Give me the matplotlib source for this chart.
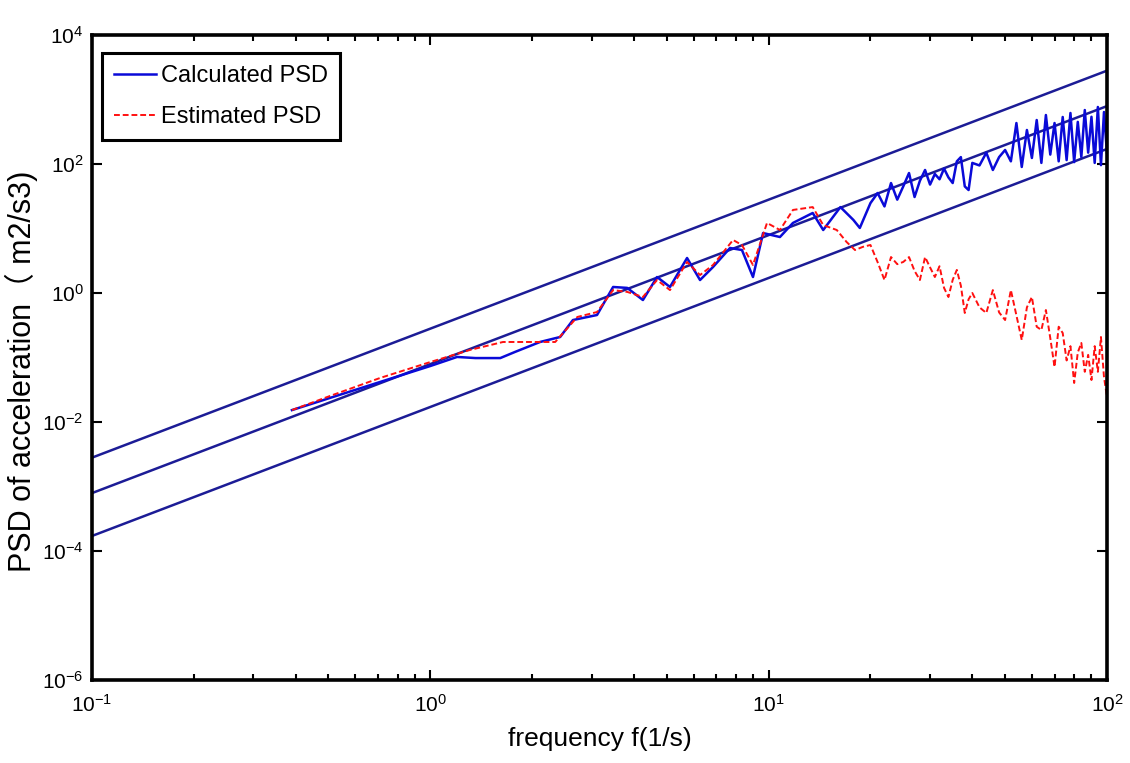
import math
import matplotlib
matplotlib.use("Agg")
import matplotlib.pyplot as plt
from matplotlib.ticker import LogLocator, FuncFormatter, NullLocator

plt.rcParams['font.family'] = ['Liberation Sans', 'Noto Sans CJK SC', 'DejaVu Sans']
plt.rcParams['mathtext.fontset'] = 'custom'
plt.rcParams['mathtext.rm'] = 'Liberation Sans'
plt.rcParams['mathtext.it'] = 'Liberation Sans'
plt.rcParams['mathtext.default'] = 'regular'
plt.rcParams['axes.unicode_minus'] = False

# calculated PSD
calc_f = [0.390, 0.505, 0.710, 1.00, 1.20, 1.36, 1.61, 1.78, 2.11, 2.42, 2.64, 3.11,
          3.47, 3.82, 4.25, 4.68, 5.11, 5.74, 6.27, 6.85, 7.69, 8.34, 8.99, 9.63,
          10.8, 11.8, 13.5, 14.5, 16.3, 17.8, 18.6,
          20, 21, 22, 23, 24, 25, 26, 27, 28, 29, 30, 31, 32, 33, 34, 35, 36, 37, 38, 39, 40,
          42, 44, 46, 48, 50, 52, 54, 56, 58, 60, 62, 64, 66, 68, 70, 72, 74, 76, 78, 80,
          82, 84, 86, 88, 90, 92, 94, 96, 98, 100]
calc_psd = [0.0153, 0.0236, 0.0417, 0.0738, 0.102, 0.098, 0.098, 0.122, 0.174, 0.208, 0.381, 0.456,
            1.24, 1.20, 0.778, 1.77, 1.24, 3.49, 1.59, 2.53, 4.99, 4.64, 1.77, 8.51,
            7.38, 12.2, 17.4, 9.48, 21.5, 13.6, 10.2,
            24.8, 35.5, 22.0, 50.7, 28.0, 45.0, 72.5, 30.8, 55.0, 80.8, 48.0, 70.0, 58.0, 85.0,
            62.0, 50.7, 110, 128, 45.0, 39.5, 104,
            95, 150, 80.8, 128, 165, 110, 432, 90, 337, 124, 481, 104, 575, 140, 432, 110,
            536, 115, 618, 107, 450, 128, 687, 150, 540, 104, 766, 96, 640, 150]

# estimated PSD
est_f = [0.390, 0.505, 0.710, 1.00, 1.31, 1.64, 1.97, 2.34, 2.72, 3.11, 3.47, 3.82,
         4.25, 4.68, 5.11, 5.74, 6.27, 6.85, 7.85, 8.34, 8.99, 9.89, 10.8, 11.8,
         13.5, 14.5, 15.9,
         17, 18, 19, 20, 21, 22, 23, 24, 25, 26, 27, 28, 29, 30, 31, 32, 33, 34, 35, 36,
         37, 38, 39, 40, 42, 44, 46, 48, 50, 52, 54, 56, 58, 60, 62, 64, 66, 68, 70, 72,
         74, 76, 78, 80, 82, 84, 86, 88, 90, 92, 94, 96, 98, 100]
est_psd = [0.0153, 0.0253, 0.0481, 0.0851, 0.131, 0.174, 0.174, 0.174, 0.425, 0.507, 1.11, 1.04,
           0.867, 1.59, 1.11, 3.03, 1.90, 2.72, 6.64, 5.55, 2.72, 12.2, 9.48, 19.4,
           21.5, 11.3, 9.48,
           6.18, 4.64, 5.2, 5.55, 3.0, 1.59, 3.61, 2.8, 3.03, 3.61, 2.2, 1.59, 3.61, 2.5,
           1.77, 2.6, 1.2, 0.867, 1.6, 2.28, 1.3, 0.49, 0.8, 1.00, 0.6, 0.49, 1.11, 0.5,
           0.381, 1.11, 0.45, 0.187, 0.6, 0.867, 0.3, 0.267, 0.545, 0.2, 0.0713, 0.3,
           0.240, 0.09, 0.15, 0.0403, 0.12, 0.168, 0.06, 0.11, 0.0448, 0.15, 0.06, 0.208,
           0.05, 0.0244]

# straight reference lines (end points)
bound_f = [0.1, 100.0]
upper = [2.8e-3, 2.8e3]
middle = [7.9e-4, 7.9e2]
lower = [1.71e-4, 1.71e2]

fig = plt.figure(figsize=(11.3, 7.63), dpi=100)
ax = fig.add_axes([0.0814, 0.1088, 0.8982, 0.8453])

line_col = '#1c1c96'
ax.plot(bound_f, upper, color=line_col, lw=1.8)
ax.plot(bound_f, middle, color=line_col, lw=1.8)
ax.plot(bound_f, lower, color=line_col, lw=1.8)

ax.plot(calc_f, calc_psd, color='#0a0ad8', lw=1.8, label='Calculated PSD')
ax.plot(est_f, est_psd, color='#ff1010', lw=1.4, linestyle=(0, (3, 1.5)), label='Estimated PSD')

ax.set_xscale('log')
ax.set_yscale('log')
ax.set_xlim(0.1, 100)
ax.set_ylim(1e-6, 1e4)

ax.yaxis.set_major_locator(LogLocator(base=100, numticks=10))
ax.yaxis.set_minor_locator(NullLocator())
fmt = FuncFormatter(lambda v, p: r'$10^{%d}$' % round(math.log10(v)))
ax.xaxis.set_major_formatter(fmt)
ax.yaxis.set_major_formatter(fmt)

ax.tick_params(which='both', direction='in', top=True, right=True, width=1.5)
ax.tick_params(which='major', length=7, labelsize=15)
ax.tick_params(axis='x', which='major', pad=10)
ax.tick_params(axis='y', which='major', pad=6)
ax.tick_params(which='minor', length=4.5)
for s in ax.spines.values():
    s.set_linewidth(2.6)

ax.set_xlabel('frequency f(1/s)', fontsize=19, labelpad=8)
ax.set_ylabel('PSD of acceleration（ m2/s3)', fontsize=22)
ax.yaxis.set_label_coords(-0.053, 0.478)

leg = ax.legend(loc='upper left', bbox_to_anchor=(0.0099, 0.972), borderaxespad=0,
                fontsize=17, handlelength=1.8, handletextpad=0.2, labelspacing=0.8,
                borderpad=0.5, fancybox=False, framealpha=1)
leg.get_frame().set_edgecolor('black')
leg.get_frame().set_linewidth(2.2)

fig.savefig('out.png', dpi=100)
